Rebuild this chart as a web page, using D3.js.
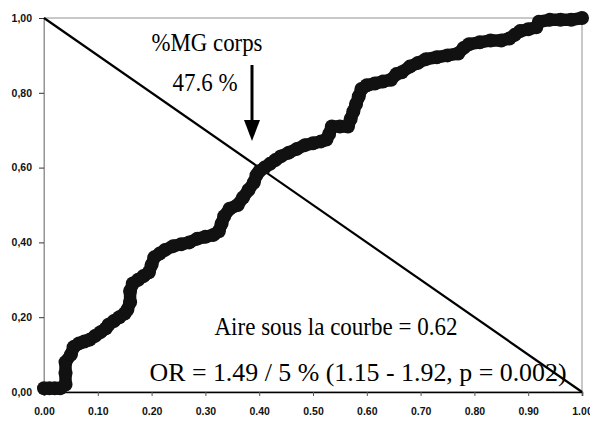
<!DOCTYPE html>
<html><head><meta charset="utf-8">
<script src="https://cdn.jsdelivr.net/npm/d3@7"></script>
<style>html,body{margin:0;padding:0;background:#fff;} svg{display:block}</style>
</head><body>
<script>
// ROC curve: false positive rate (1 - specificity) and sensitivity
const fpr = [0.00,0.01,0.02,0.03,0.04,0.04,0.04,0.05,0.055,0.065,0.075,0.085,0.095,0.105,0.115,0.12,0.13,0.14,0.15,0.155,0.16,0.16,0.165,0.175,0.185,0.195,0.20,0.205,0.215,0.225,0.24,0.255,0.27,0.285,0.30,0.315,0.325,0.33,0.335,0.345,0.36,0.37,0.38,0.39,0.395,0.40,0.41,0.42,0.43,0.44,0.455,0.47,0.485,0.50,0.515,0.525,0.53,0.535,0.55,0.565,0.57,0.575,0.58,0.585,0.59,0.60,0.615,0.63,0.645,0.655,0.665,0.68,0.695,0.71,0.73,0.75,0.77,0.78,0.79,0.81,0.83,0.85,0.865,0.875,0.885,0.90,0.915,0.92,0.94,0.96,0.98,1.00];
const tpr = [0.01,0.01,0.01,0.01,0.02,0.05,0.08,0.10,0.12,0.13,0.135,0.14,0.15,0.16,0.17,0.18,0.19,0.20,0.21,0.22,0.24,0.27,0.29,0.30,0.31,0.32,0.34,0.36,0.37,0.38,0.39,0.395,0.40,0.41,0.415,0.42,0.43,0.45,0.47,0.49,0.50,0.52,0.54,0.56,0.58,0.59,0.60,0.61,0.62,0.63,0.64,0.65,0.66,0.665,0.67,0.675,0.69,0.71,0.71,0.71,0.73,0.75,0.77,0.79,0.81,0.82,0.825,0.83,0.835,0.85,0.855,0.87,0.88,0.89,0.895,0.90,0.905,0.92,0.93,0.935,0.94,0.94,0.945,0.955,0.965,0.97,0.975,0.99,0.995,0.995,0.995,1.00];
const diagonal = [[0,1],[1,0]];
const xTicks = [0,0.1,0.2,0.3,0.4,0.5,0.6,0.7,0.8,0.9,1.0];
const yTicks = [0,0.2,0.4,0.6,0.8,1.0];
const labelTitle = "%MG corps";
const labelCut = "47.6 %";
const labelAUC = "Aire sous la courbe = 0.62";
const labelOR = "OR = 1.49 / 5 % (1.15 - 1.92, p = 0.002)";

const W = 590, H = 421;
const x = d3.scaleLinear().domain([0,1]).range([44,582]);
const y = d3.scaleLinear().domain([0,1]).range([392,18]);

const svg = d3.select("body").append("svg").attr("width",W).attr("height",H);

// frame (top/right/left thin gray)
svg.append("rect").attr("x",x(0)).attr("y",y(1)).attr("width",x(1)-x(0)).attr("height",y(0)-y(1))
  .attr("fill","none").attr("stroke","#777").attr("stroke-width",0.8);

// y axis
const yAxis = d3.axisLeft(y).tickValues(yTicks).tickSize(5).tickPadding(7)
  .tickFormat(d => d3.format(".2f")(d).replace(".", ","));
const gy = svg.append("g").attr("transform",`translate(${x(0)},0)`).call(yAxis);
gy.select(".domain").attr("stroke","#888").attr("stroke-width",0.8);
gy.selectAll(".tick line").attr("stroke","#333");
gy.selectAll("text").attr("font-family","Liberation Sans, Arial, sans-serif").attr("font-weight","bold")
  .attr("font-size",10.5).attr("fill","#111");

// x axis
const xAxis = d3.axisBottom(x).tickValues(xTicks).tickSize(4).tickPadding(12)
  .tickFormat(d3.format(".2f"));
const gx = svg.append("g").attr("transform",`translate(0,${y(0)})`).call(xAxis);
gx.select(".domain").attr("stroke","#000").attr("stroke-width",1.5);
gx.selectAll(".tick line").attr("stroke","#555");
gx.selectAll("text").attr("font-family","Liberation Sans, Arial, sans-serif").attr("font-weight","bold")
  .attr("font-size",10.5).attr("fill","#111");

// diagonal
svg.append("line").attr("x1",x(diagonal[0][0])).attr("y1",y(diagonal[0][1]))
  .attr("x2",x(diagonal[1][0])).attr("y2",y(diagonal[1][1]))
  .attr("stroke","#000").attr("stroke-width",2.2);

// ROC curve
const pts = fpr.map((f,i)=>[f,tpr[i]]);
const line = d3.line().x(d=>x(d[0])).y(d=>y(d[1]));
svg.append("path").attr("d",line(pts)).attr("fill","none").attr("stroke","#111")
  .attr("stroke-width",12.5).attr("stroke-linejoin","round").attr("stroke-linecap","round");
svg.append("g").selectAll("circle").data(pts).join("circle")
  .attr("cx",d=>x(d[0])).attr("cy",d=>y(d[1])).attr("r",7).attr("fill","#111");

// annotations
const serif = "Liberation Serif, Times New Roman, serif";
svg.append("text").attr("x",207).attr("y",51).attr("text-anchor","middle")
  .attr("font-family",serif).attr("font-size",25).attr("textLength",111).attr("lengthAdjust","spacingAndGlyphs")
  .text(labelTitle);
svg.append("text").attr("x",205).attr("y",91).attr("text-anchor","middle")
  .attr("font-family",serif).attr("font-size",25).attr("textLength",65).attr("lengthAdjust","spacingAndGlyphs")
  .text(labelCut);

// arrow
const ax = 252;
svg.append("line").attr("x1",ax).attr("y1",65).attr("x2",ax).attr("y2",124)
  .attr("stroke","#000").attr("stroke-width",3);
svg.append("path").attr("d",`M${ax-8},120 L${ax+8},120 L${ax},141 Z`).attr("fill","#000");

svg.append("text").attr("x",336).attr("y",335).attr("text-anchor","middle")
  .attr("font-family",serif).attr("font-size",25).attr("textLength",243).attr("lengthAdjust","spacingAndGlyphs")
  .text(labelAUC);
svg.append("text").attr("x",358).attr("y",381).attr("text-anchor","middle")
  .attr("font-family",serif).attr("font-size",25).attr("textLength",417).attr("lengthAdjust","spacingAndGlyphs")
  .text(labelOR);
</script>
</body></html>
